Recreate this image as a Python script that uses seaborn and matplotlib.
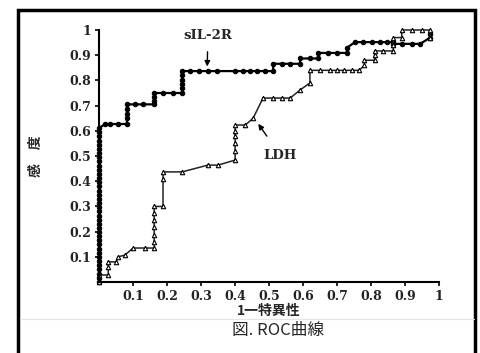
import matplotlib
matplotlib.use("Agg")
import matplotlib.pyplot as plt
from matplotlib.patches import Rectangle
from matplotlib.lines import Line2D
import seaborn as sns

# sIL-2R ROC points (1-specificity, sensitivity)
sil_x = [0, 0, 0, 0, 0, 0, 0, 0, 0, 0, 0, 0, 0, 0, 0, 0, 0, 0, 0,
         0, 0, 0, 0, 0, 0, 0, 0, 0, 0, 0, 0, 0, 0, 0, 0, 0, 0, 0,
         0.018, 0.032, 0.056, 0.082, 0.082, 0.082, 0.082, 0.082,
         0.106, 0.13, 0.162, 0.162, 0.162, 0.162,
         0.188, 0.217, 0.244, 0.244, 0.244, 0.244, 0.244, 0.244,
         0.268, 0.294, 0.32, 0.347, 0.40, 0.424, 0.444, 0.465, 0.488, 0.512,
         0.512, 0.538, 0.562, 0.591, 0.591, 0.62, 0.644, 0.644,
         0.674, 0.70, 0.729, 0.729, 0.753, 0.776, 0.803, 0.826, 0.847,
         0.865, 0.865, 0.89, 0.92, 0.944, 0.974, 0.974]
sil_y = [0.00, 0.017, 0.033, 0.05, 0.066, 0.083, 0.10, 0.116, 0.132, 0.149,
         0.165, 0.182, 0.198, 0.215, 0.231, 0.248, 0.264, 0.281, 0.297,
         0.314, 0.33, 0.347, 0.363, 0.38, 0.396, 0.413, 0.429, 0.446, 0.462,
         0.479, 0.495, 0.512, 0.528, 0.545, 0.561, 0.578, 0.594, 0.611,
         0.627, 0.627, 0.627, 0.627, 0.65, 0.668, 0.685, 0.705,
         0.705, 0.705, 0.705, 0.72, 0.735, 0.75,
         0.75, 0.75, 0.75, 0.77, 0.785, 0.80, 0.82, 0.837,
         0.837, 0.837, 0.837, 0.837, 0.837, 0.837, 0.837, 0.837, 0.837, 0.837,
         0.866, 0.866, 0.866, 0.866, 0.887, 0.887, 0.887, 0.909,
         0.909, 0.909, 0.909, 0.93, 0.952, 0.952, 0.952, 0.952, 0.952,
         0.952, 0.945, 0.945, 0.945, 0.945, 0.97, 0.985]

# LDH ROC points
ldh_x = [0, 0, 0.027, 0.027, 0.027, 0.05, 0.056, 0.076, 0.1, 0.135,
         0.162, 0.162, 0.162, 0.162, 0.162, 0.162, 0.162,
         0.188, 0.188, 0.188, 0.244, 0.32, 0.35, 0.40,
         0.40, 0.40, 0.40, 0.40, 0.40, 0.43, 0.453, 0.482,
         0.51, 0.538, 0.562, 0.591, 0.62, 0.62, 0.65, 0.68, 0.70, 0.72,
         0.744, 0.765, 0.78, 0.78, 0.81, 0.81, 0.81, 0.836, 0.865,
         0.865, 0.865, 0.89, 0.89, 0.92, 0.95, 0.974, 0.974]
ldh_y = [0.00, 0.028, 0.028, 0.06, 0.08, 0.08, 0.10, 0.107, 0.135, 0.135,
         0.135, 0.16, 0.187, 0.218, 0.246, 0.274, 0.30,
         0.30, 0.41, 0.437, 0.437, 0.464, 0.464, 0.484,
         0.52, 0.55, 0.58, 0.60, 0.623, 0.623, 0.65, 0.73,
         0.73, 0.73, 0.73, 0.762, 0.79, 0.84, 0.84, 0.84, 0.84, 0.84,
         0.84, 0.84, 0.86, 0.88, 0.88, 0.90, 0.917, 0.917, 0.917,
         0.94, 0.97, 0.97, 1.0, 1.0, 1.0, 1.0, 0.97]

tick_vals = [0.1, 0.2, 0.3, 0.4, 0.5, 0.6, 0.7, 0.8, 0.9, 1]
tick_labels = ["0.1", "0.2", "0.3", "0.4", "0.5", "0.6", "0.7", "0.8", "0.9", "1"]

sns.set_style("ticks")
plt.rcParams['font.family'] = ['DejaVu Serif', 'Noto Sans CJK JP']
cjk = ['Noto Sans CJK JP', 'DejaVu Sans']

fig = plt.figure(figsize=(4.81, 3.53), dpi=100)
ax = fig.add_axes([0.206, 0.201, 0.707, 0.714])

sns.lineplot(x=sil_x, y=sil_y, sort=False, estimator=None, ax=ax,
             color='black', linewidth=1.6, marker='o', markersize=3.2,
             markerfacecolor='black', markeredgecolor='black', clip_on=False)
sns.lineplot(x=ldh_x, y=ldh_y, sort=False, estimator=None, ax=ax,
             color='#222222', linewidth=1.1, marker='^', markersize=3.2,
             markerfacecolor='white', markeredgecolor='black',
             markeredgewidth=0.8, clip_on=False)

ax.set_xlim(0, 1)
ax.set_ylim(0, 1)
ax.set_xticks(tick_vals)
ax.set_xticklabels(tick_labels)
ax.set_yticks(tick_vals)
ax.set_yticklabels(tick_labels)
for lab in ax.get_xticklabels() + ax.get_yticklabels():
    lab.set_fontweight('bold')
    lab.set_fontsize(9)
    lab.set_color('#222222')
ax.tick_params(direction='out', length=3, width=1.2, color='black', pad=3)
sns.despine(ax=ax)
for s in ['left', 'bottom']:
    ax.spines[s].set_linewidth(1.5)
    ax.spines[s].set_color('black')

ax.set_xlabel("1一特異性", family=cjk, fontsize=10, fontweight='bold')
ax.xaxis.set_label_coords(0.5, -0.088)
ax.set_ylabel("感\u3000度", family=cjk, fontsize=10, fontweight='bold')
ax.yaxis.set_label_coords(-0.165, 0.5)

ax.annotate("sIL-2R", xy=(0.318, 0.855), xytext=(0.32, 0.98),
            ha='center', va='center', fontsize=9.5, fontweight='bold',
            arrowprops=dict(arrowstyle='-|>', color='black', lw=1.0,
                            mutation_scale=8, shrinkA=5, shrinkB=0))
ax.annotate("LDH", xy=(0.468, 0.628), xytext=(0.532, 0.504),
            ha='center', va='center', fontsize=9.5, fontweight='bold',
            arrowprops=dict(arrowstyle='-|>', color='black', lw=1.0,
                            mutation_scale=8, shrinkA=8, shrinkB=0))

# caption, separator and outer frame
fig.text(0.578, 1 - 330 / 353, "図. ROC曲線", family=cjk, fontsize=12,
         ha='center', va='center')
fig.add_artist(Line2D([20 / 481, 474 / 481], [1 - 319 / 353, 1 - 319 / 353],
                      color='#e4e4e4', lw=0.8))
fig.add_artist(Rectangle((18 / 481, -0.02), 457 / 481, 1 - 10 / 353 + 0.02,
                         fill=False, edgecolor='black', lw=2.5,
                         transform=fig.transFigure, clip_on=False))

fig.savefig("out.png", dpi=100)
